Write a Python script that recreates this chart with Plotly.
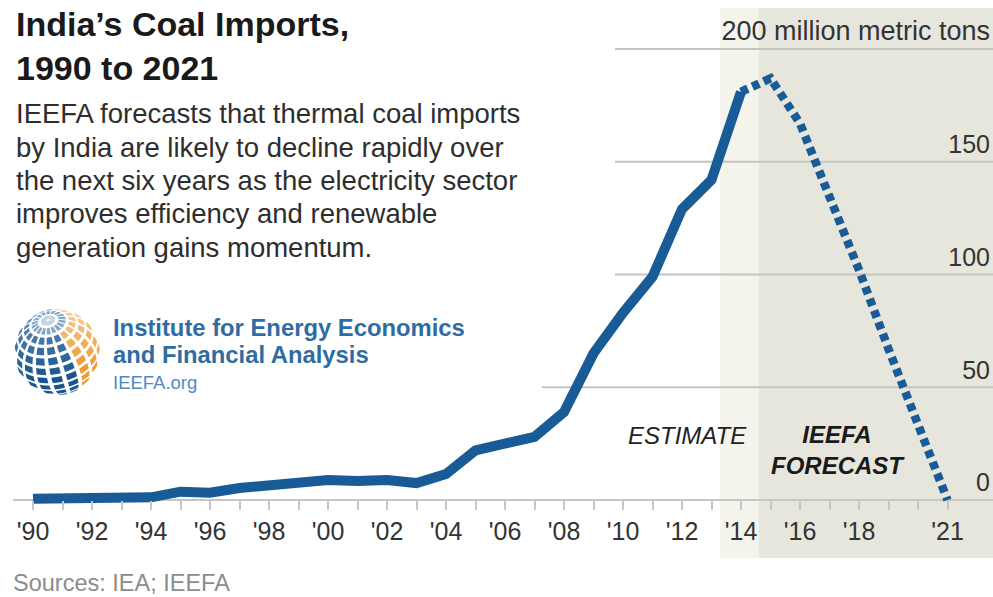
import numpy as np
import plotly.graph_objects as go

# ---------------- data ----------------
years_actual = [1990, 1991, 1992, 1993, 1994, 1995, 1996, 1997, 1998, 1999, 2000, 2001,
                2002, 2003, 2004, 2005, 2006, 2007, 2008, 2009, 2010, 2011, 2012, 2013, 2014]
imports_actual = [0.5, 0.6, 0.8, 1.0, 1.2, 3.7, 3.2, 5.3, 6.7, 8.0, 8.9, 8.4,
                  8.9, 7.5, 11.5, 22, 25, 28, 39, 65, 83, 99, 129, 142, 181]
years_forecast = [2014, 2015, 2016, 2017, 2018, 2019, 2020, 2021]
imports_forecast = [181, 187, 167, 135, 102, 67, 33, 0]

tick_years = list(range(1990, 2022))
tick_text = ["'%02d" % (y % 100) if (y % 2 == 0 and y <= 2018) or y == 2021 else "" for y in tick_years]
y_ticks = [0, 50, 100, 150, 200]
y_tick_text = ["0", "50", "100", "150",
               '<span style="font-size:27px">200 million metric tons</span>']

subtitle_lines = ["IEEFA forecasts that thermal coal imports",
                  "by India are likely to decline rapidly over",
                  "the next six years as the electricity sector",
                  "improves efficiency and renewable",
                  "generation gains momentum."]

W, H = 993, 597
LINE_COLOR = "#185b97"
FONT = "Liberation Sans, Arial, sans-serif"


def px(x):
    return x / W


def py(y):
    return 1 - y / H


fig = go.Figure()

fig.add_trace(go.Scatter(x=years_actual, y=imports_actual, mode="lines",
                         line=dict(color=LINE_COLOR, width=10), hoverinfo="skip",
                         showlegend=False))
fig.add_trace(go.Scatter(x=years_forecast, y=imports_forecast, mode="lines",
                         line=dict(color=LINE_COLOR, width=8.5, dash="7.5px,5px"),
                         hoverinfo="skip", showlegend=False))
# empty traces so that the logo axes and the label axes exist
fig.add_trace(go.Scatter(x=[], y=[], xaxis="x2", yaxis="y2", showlegend=False, hoverinfo="skip"))
fig.add_trace(go.Scatter(x=[], y=[], xaxis="x3", yaxis="y3", showlegend=False, hoverinfo="skip"))

# ---------------- globe logo (decoration) ----------------
alpha = np.radians(40)
beta = np.radians(16)


def project(lat, lon):
    phi, lam = np.radians(lat), np.radians(lon)
    x = np.cos(phi) * np.sin(lam)
    y = np.sin(phi)
    z = np.cos(phi) * np.cos(lam)
    y1 = y * np.cos(alpha) - z * np.sin(alpha)
    z1 = y * np.sin(alpha) + z * np.cos(alpha)
    x2 = x * np.cos(beta) - y1 * np.sin(beta)
    y2 = x * np.sin(beta) + y1 * np.cos(beta)
    return x2, y2, z1


def hex_to_rgb(c):
    return [int(c[i:i + 2], 16) for i in (1, 3, 5)]


def mix(c1, c2, t):
    t = min(max(t, 0), 1)
    a, b = hex_to_rgb(c1), hex_to_rgb(c2)
    return "#%02x%02x%02x" % tuple(round(a[k] + (b[k] - a[k]) * t) for k in range(3))


globe_shapes = []
for lat0 in range(-90, 90, 14):
    lat1 = min(lat0 + 14, 90)
    for lon0 in range(-180, 180, 20):
        lon1 = lon0 + 20
        la0, la1 = lat0 + 2.2, lat1 - 2.2
        lo0, lo1 = lon0 + 3.0, lon1 - 3.0
        pts = []
        for t in np.linspace(0, 1, 4):
            pts.append(project(la0, lo0 + (lo1 - lo0) * t))
        for t in np.linspace(0, 1, 4):
            pts.append(project(la0 + (la1 - la0) * t, lo1))
        for t in np.linspace(0, 1, 4):
            pts.append(project(la1, lo1 - (lo1 - lo0) * t))
        for t in np.linspace(0, 1, 4):
            pts.append(project(la1 - (la1 - la0) * t, lo0))
        if min(p[2] for p in pts) < 0.03:
            continue
        cx = np.mean([p[0] for p in pts])
        cy = np.mean([p[1] for p in pts])
        cz = np.mean([p[2] for p in pts])
        if lat0 >= 62:
            col = mix("#7ea3c4", "#c9d6e0", (lat0 - 62) / 28)
        elif cx > 0.33 - 0.42 * cy:
            col = mix("#ee9a36", "#f7cf95", (cy + 0.3) / 1.3)
        else:
            col = mix("#17538e", "#6a96bd", (cy + 0.6) / 1.6)
        if cz < 0.3:
            col = mix(col, "#ffffff", (0.3 - cz) / 0.6)
        path = "M " + " L ".join("%.4f,%.4f" % (p[0], p[1]) for p in pts) + " Z"
        globe_shapes.append(dict(type="path", xref="x2", yref="y2", path=path,
                                 fillcolor=col, line=dict(width=0), layer="above"))

# ---------------- layout ----------------
x0_px, x_per_year = 33.0, 29.5
x_lo = 1990 - (x0_px - 13) / x_per_year
x_hi = 1990 + (W - x0_px) / x_per_year
y_per_unit = 2.255
y_hi = 500 / y_per_unit
y_lo = -(H - 500) / y_per_unit

shapes = [
    dict(type="rect", xref="x", yref="paper", x0=2013.3, x1=2014.6, y0=py(558), y1=py(8),
         fillcolor="#f4f3ec", line=dict(width=0), layer="below"),
    dict(type="rect", xref="x", yref="paper", x0=2014.6, x1=x_hi, y0=py(558), y1=py(8),
         fillcolor="#e7e6dc", line=dict(width=0), layer="below"),
    dict(type="line", xref="x", yref="y", x0=x_lo, x1=x_hi, y0=0, y1=0,
         line=dict(color="#c6c6c6", width=2), layer="below"),
]
grid_start = {50: 2007.25, 100: 2009.73, 150: 2009.73, 200: 2009.73}
for v, xs in grid_start.items():
    shapes.append(dict(type="line", xref="x", yref="y", x0=xs, x1=x_hi, y0=v, y1=v,
                       line=dict(color="#c4c4c4", width=2), layer="below"))
shapes += globe_shapes

annotations = [
    dict(text="<b>India’s Coal Imports,<br>1990 to 2021</b>", x=px(14), y=py(46),
         xref="paper", yref="paper", xanchor="left", yanchor="middle", align="left",
         showarrow=False, font=dict(family=FONT, size=34, color="#1a1a1a")),
]
for i, line in enumerate(subtitle_lines):
    annotations.append(dict(text=line, x=px(14), y=py(114 + 33.3 * i), xref="paper", yref="paper",
                            xanchor="left", yanchor="middle", align="left", showarrow=False,
                            font=dict(family=FONT, size=27.5, color="#2e2e2e")))
annotations += [
    # one block; base size sets a 26.5px line pitch, spans set the glyph sizes
    dict(text='<span style="font-size:23.8px"><b>Institute for Energy Economics</b></span><br>'
              '<span style="font-size:23.8px"><b>and Financial Analysis</b></span><br>'
              '<span style="font-size:18.5px;color:#4f8bc2">IEEFA.org</span>',
         x=px(111), y=py(353), xref="paper", yref="paper",
         xanchor="left", yanchor="middle", align="left", showarrow=False,
         font=dict(family=FONT, size=20.4, color="#2f6ca2")),
    dict(text="<i>ESTIMATE</i>", x=2012.17, y=(500 - 435) / y_per_unit, xref="x", yref="y",
         xanchor="center", yanchor="middle", showarrow=False,
         font=dict(family=FONT, size=24, color="#222222")),
    dict(text="<b><i>IEEFA<br>FORECAST</i></b>", x=2017.3, y=(500 - 450) / y_per_unit, xref="x", yref="y",
         xanchor="center", yanchor="middle", showarrow=False, align="center",
         font=dict(family=FONT, size=24, color="#1a1a1a")),
    dict(text="Sources: IEA; IEEFA", x=px(11), y=py(583), xref="paper", yref="paper",
         xanchor="left", yanchor="middle", showarrow=False,
         font=dict(family=FONT, size=23.5, color="#8c8c8c")),
]

fig.update_layout(
    width=W, height=H,
    margin=dict(l=0, r=0, t=0, b=0),
    paper_bgcolor="white", plot_bgcolor="rgba(0,0,0,0)",
    showlegend=False,
    xaxis=dict(domain=[13 / W, 1], range=[x_lo, x_hi], anchor="free", position=(H - 500) / H,
               showline=False, ticks="outside", ticklen=9,
               tickwidth=1.5, tickcolor="#c6c6c6", tickvals=tick_years, ticktext=tick_text,
               tickfont=dict(family=FONT, size=25, color="#333333"), showgrid=False,
               zeroline=False, layer="above traces", fixedrange=True),
    yaxis=dict(domain=[0, 1], range=[y_lo, y_hi], visible=False, fixedrange=True),
    # value labels: same scale as the data axis, on its own subplot
    xaxis3=dict(domain=[0, 1], range=[0, 1], visible=False, anchor="y3", fixedrange=True),
    yaxis3=dict(domain=[0, 1], range=[y_lo, y_hi], side="right", anchor="x3",
                tickvals=y_ticks, ticktext=y_tick_text, ticklabelposition="inside top",
                ticks="", showline=False, showgrid=False, zeroline=False,
                tickfont=dict(family=FONT, size=25, color="#333333"), fixedrange=True),
    xaxis2=dict(domain=[px(12), px(102)], range=[-1.04, 1.04], visible=False, anchor="y2"),
    yaxis2=dict(domain=[py(397), py(307)], range=[-1.04, 1.04], visible=False, anchor="x2"),
    shapes=shapes,
    annotations=annotations,
)

fig.write_html("out.html")
